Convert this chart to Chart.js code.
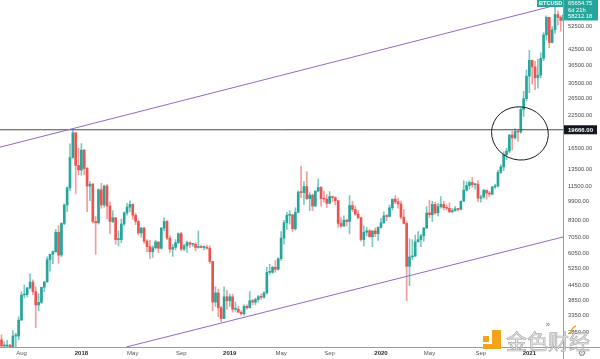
<!DOCTYPE html>
<html>
<head>
<meta charset="utf-8">
<script src="https://cdn.jsdelivr.net/npm/chart.js@4.4.1/dist/chart.umd.min.js"></script>
<style>
html,body{margin:0;padding:0;background:#ffffff;}
#wrap{width:600px;height:359px;position:relative;overflow:hidden;}
</style>
</head>
<body>
<div id="wrap"><canvas id="c" width="600" height="359"></canvas></div>
<script>
// ---- weekly candles (week start, Monday) ----
const weeks = [
'2017-06-19','2017-06-26','2017-07-03','2017-07-10','2017-07-17','2017-07-24','2017-07-31','2017-08-07','2017-08-14','2017-08-21','2017-08-28','2017-09-04','2017-09-11','2017-09-18','2017-09-25','2017-10-02','2017-10-09','2017-10-16','2017-10-23','2017-10-30','2017-11-06','2017-11-13','2017-11-20','2017-11-27','2017-12-04','2017-12-11','2017-12-18','2017-12-25',
'2018-01-01','2018-01-08','2018-01-15','2018-01-22','2018-01-29','2018-02-05','2018-02-12','2018-02-19','2018-02-26','2018-03-05','2018-03-12','2018-03-19','2018-03-26','2018-04-02','2018-04-09','2018-04-16','2018-04-23','2018-04-30','2018-05-07','2018-05-14','2018-05-21','2018-05-28','2018-06-04','2018-06-11','2018-06-18','2018-06-25','2018-07-02','2018-07-09','2018-07-16','2018-07-23','2018-07-30','2018-08-06','2018-08-13','2018-08-20','2018-08-27','2018-09-03','2018-09-10','2018-09-17','2018-09-24','2018-10-01','2018-10-08','2018-10-15','2018-10-22','2018-10-29','2018-11-05','2018-11-12','2018-11-19','2018-11-26','2018-12-03','2018-12-10','2018-12-17','2018-12-24','2018-12-31',
'2019-01-07','2019-01-14','2019-01-21','2019-01-28','2019-02-04','2019-02-11','2019-02-18','2019-02-25','2019-03-04','2019-03-11','2019-03-18','2019-03-25','2019-04-01','2019-04-08','2019-04-15','2019-04-22','2019-04-29','2019-05-06','2019-05-13','2019-05-20','2019-05-27','2019-06-03','2019-06-10','2019-06-17','2019-06-24','2019-07-01','2019-07-08','2019-07-15','2019-07-22','2019-07-29','2019-08-05','2019-08-12','2019-08-19','2019-08-26','2019-09-02','2019-09-09','2019-09-16','2019-09-23','2019-09-30','2019-10-07','2019-10-14','2019-10-21','2019-10-28','2019-11-04','2019-11-11','2019-11-18','2019-11-25','2019-12-02','2019-12-09','2019-12-16','2019-12-23','2019-12-30',
'2020-01-06','2020-01-13','2020-01-20','2020-01-27','2020-02-03','2020-02-10','2020-02-17','2020-02-24','2020-03-02','2020-03-09','2020-03-16','2020-03-23','2020-03-30','2020-04-06','2020-04-13','2020-04-20','2020-04-27','2020-05-04','2020-05-11','2020-05-18','2020-05-25','2020-06-01','2020-06-08','2020-06-15','2020-06-22','2020-06-29','2020-07-06','2020-07-13','2020-07-20','2020-07-27','2020-08-03','2020-08-10','2020-08-17','2020-08-24','2020-08-31','2020-09-07','2020-09-14','2020-09-21','2020-09-28','2020-10-05','2020-10-12','2020-10-19','2020-10-26','2020-11-02','2020-11-09','2020-11-16','2020-11-23','2020-11-30','2020-12-07','2020-12-14','2020-12-21','2020-12-28',
'2021-01-04','2021-01-11','2021-01-18','2021-01-25','2021-02-01','2021-02-08','2021-02-15','2021-02-22','2021-03-01','2021-03-08','2021-03-15','2021-03-22','2021-03-29'
];
const opens = [
2650,2500,2500,2520,1930,2750,2750,3200,4070,4080,4350,4600,4200,3700,3790,4380,4610,5700,6000,6150,7400,5950,8050,9600,11300,15100,19100,14000,
13400,16200,13600,11500,11700,8200,8100,11100,9600,11500,9500,8200,8500,6900,6900,8000,8900,9400,9650,8700,8200,7350,7700,6800,6450,6150,6380,6750,6350,7700,8200,7000,6300,6400,6700,7300,6300,6500,6700,6600,6600,6400,6450,6400,6400,6350,5600,3800,4150,3600,3250,4000,3850,
4000,3550,3550,3450,3400,3650,3600,3850,3800,3900,4000,3980,4150,5050,5050,5300,5200,5750,7000,8100,8700,8730,7650,8950,10850,10800,11450,10200,10550,9500,10950,11350,10200,10150,9750,10400,10300,10000,8050,7850,8300,8200,9550,9200,8800,8500,6900,7400,7500,7100,7500,7300,
7750,8100,8650,8600,9350,10150,9900,9700,8550,8050,5350,5850,5900,6750,6900,7150,7700,8900,8750,9650,8900,9450,9650,9350,9300,9000,9100,9250,9200,9950,11050,11550,11900,11650,11700,10250,10350,11050,10750,10650,11400,11500,13100,13800,15500,16050,18700,18200,19350,19250,23850,26450,
32800,38150,35800,32300,33100,38900,48600,57500,45200,51000,59000,57400,55800
];
const highs = [
2780,2600,2640,2540,2900,2830,3300,4200,4480,4380,4980,4700,4400,4120,4380,4620,5860,6000,6200,7600,7880,8100,9700,11400,17200,19666,19200,16500,
17250,16300,13700,12000,11800,8600,11200,11800,11600,11700,9900,9100,8500,7500,8400,9000,9750,9990,9700,8880,8300,7750,7760,6900,6850,6500,6850,6750,7750,8500,8280,7150,6600,6900,7350,7400,6600,6800,6750,6650,6700,7500,6550,6500,6550,6500,5600,4400,4300,3650,4400,4250,4100,
4100,3800,3650,3500,3700,3700,4200,3900,3950,4050,4100,4200,5300,5450,5350,5650,5800,7450,8300,8950,9100,8800,9350,11000,13880,12000,13200,10800,10650,11000,12300,11450,10950,10600,10900,10450,10350,10000,8500,8650,8400,10500,9950,9500,9100,8550,7850,7750,7600,7500,7700,7800,
8450,9000,8750,9600,10150,10500,10250,9950,9200,8200,6950,6900,7200,7450,7250,7750,9450,10050,9950,9850,9750,10400,9950,9600,9800,9300,9450,9300,9950,12100,12000,12100,12480,11800,12100,10550,11150,11050,10950,11450,11700,13350,14100,15950,16500,18800,19450,19900,19450,24250,28400,34800,
41950,38250,37800,38500,41000,49700,58350,57500,52600,64000,61000,58400,59800
];
const lows = [
2450,2320,2480,1840,1910,2450,2650,3200,3960,3990,4300,4080,2980,3500,3750,4200,4600,5100,5480,6100,5500,5850,7950,9000,11000,15000,10700,12800,
12750,12800,9000,10000,8100,6000,8000,9300,9400,8400,7300,8100,6600,6500,6700,7900,8700,9000,8350,7950,7200,7050,6650,6130,5750,5820,6300,6100,6300,7500,6900,6100,5880,6250,6650,6200,6200,6100,6400,6450,6200,6350,6380,6250,6300,5500,3500,3650,3300,3150,3250,3550,3650,
3450,3480,3450,3350,3350,3550,3600,3700,3700,3800,3900,3950,4100,4950,5000,5050,5150,5650,6600,7600,8000,7450,7550,8950,10300,9650,10100,9100,9100,9450,10950,9500,9850,9350,9700,9900,9600,7750,7750,7800,7850,7300,9000,8700,8400,6800,6500,7150,7050,6450,7100,6850,
7700,8050,8250,8550,9150,9700,9300,8400,8000,3850,4450,5700,5850,6750,6450,6800,7650,8500,8200,8800,8650,9300,9150,9150,8900,8900,9050,9050,9150,9950,10950,11150,11350,11150,9900,9850,10250,10150,10400,10550,11250,11400,12950,13300,14800,15800,16200,18000,17600,19000,22350,25900,
28000,30400,28800,29250,32300,37950,46200,43000,45000,49300,53300,50400,54800
];
const closes = [
2500,2500,2520,1930,2750,2750,3200,4070,4080,4350,4600,4200,3700,3790,4380,4610,5700,6000,6150,7400,5950,8050,9600,11300,15100,19100,14000,13400,
16200,13600,11500,11700,8200,8100,11100,9600,11500,9500,8200,8500,6900,6900,8000,8900,9400,9650,8700,8200,7350,7700,6800,6450,6150,6380,6750,6350,7700,8200,7000,6300,6400,6700,7300,6300,6500,6700,6600,6600,6400,6450,6400,6400,6350,5600,3800,4150,3600,3250,4000,3850,4000,
3550,3550,3450,3400,3650,3600,3850,3800,3900,4000,3980,4150,5050,5050,5300,5200,5750,7000,8100,8700,8730,7650,8950,10850,10800,11450,10200,10550,9500,10950,11350,10200,10150,9750,10400,10300,10000,8050,7850,8300,8200,9550,9200,8800,8500,6900,7400,7500,7100,7500,7300,7750,
8100,8650,8600,9350,10150,9900,9700,8550,8050,5350,5850,5900,6750,6900,7150,7700,8900,8750,9650,8900,9450,9650,9350,9300,9000,9100,9250,9200,9950,11050,11550,11900,11650,11700,10250,10350,11050,10750,10650,11400,11500,13100,13800,15500,16050,18700,18200,19350,19250,23850,26450,32800,
38150,35800,32300,33100,38900,48600,57500,45200,51000,59000,57400,55800,58750
];

// ---- axes ----
const yTicks = [52500,42500,36500,30500,26500,22500,16500,13500,11500,9900,8300,7050,6050,5250,4450,3850,3350,2850];
const xTickDates = ['2017-08-07','2018-01-01','2018-05-07','2018-09-03','2018-12-31','2019-05-06','2019-09-02','2020-01-06','2020-05-04','2020-09-07','2021-01-04'];
const xTickLabels = ['Aug','2018','May','Sep','2019','May','Sep','2020','May','Sep','2021'];
const xRange = ['2017-06-15T07:00','2021-03-27T14:00'];
const yRange = [2477, 67800];

// ---- drawings ----
const keyLevel = 19666;
const upperLine = [['2017-06-15', 16650], ['2021-03-28', 65654.75]];
const lowerLine = [['2018-04-21', 2477], ['2021-03-28', 7075]];
const ringCenter = ['2020-12-12', 18990];
const symbol = 'BTCUSD', lineLabel = 65654.75, countdown = '6d 21h', lastPrice = 58212.18;

const T0 = Date.parse('2018-01-01T00:00:00Z');
const day = s => (Date.parse((s.length > 10 ? s : s + 'T00:00') + ':00Z') - T0) / 86400000;

const UP = '#26a69a', DOWN = '#ef5350', UPW = '#79c9c1', DOWNW = '#f39c9a';
const isUp = i => closes[i] >= opens[i];

const wickData = weeks.map((w, i) => ({x: day(w), y: [lows[i], highs[i]]}));
const bodyData = weeks.map((w, i) => ({x: day(w), y: [opens[i], closes[i]]}));
const pts = arr => arr.map(p => ({x: day(p[0]), y: p[1]}));

const FONT = '"Liberation Sans", Arial, sans-serif';

const extras = {
  id: 'extras',
  afterDraw(chart) {
    const {ctx, chartArea: a, scales: {x, y}} = chart;
    ctx.save();
    // circled area
    const cx = x.getPixelForValue(day(ringCenter[0]));
    const cy = y.getPixelForValue(ringCenter[1]);
    ctx.beginPath();
    ctx.ellipse(cx, cy, 28.5, 26.5, 0.25, 0, Math.PI * 2);
    ctx.strokeStyle = '#1c1c1c';
    ctx.lineWidth = 1;
    ctx.stroke();

    // axis borders
    ctx.strokeStyle = '#9b9b9b';
    ctx.lineWidth = 1;
    ctx.beginPath();
    ctx.moveTo(a.right + 0.5, 0); ctx.lineTo(a.right + 0.5, chart.height);
    ctx.moveTo(0, a.bottom + 0.5); ctx.lineTo(chart.width, a.bottom + 0.5);
    ctx.stroke();

    ctx.textBaseline = 'middle';
    ctx.textAlign = 'left';
    // key level label
    const ky = y.getPixelForValue(keyLevel);
    ctx.fillStyle = '#131722';
    ctx.fillRect(a.right + 1, ky - 4.5, 33, 9);
    ctx.fillStyle = '#ffffff';
    ctx.font = 'bold 6px ' + FONT;
    ctx.fillText(keyLevel.toFixed(2), a.right + 5, ky + 0.3);

    // last price / symbol labels
    const y1 = y.getPixelForValue(lineLabel), y2 = y.getPixelForValue(lastPrice);
    ctx.fillStyle = UP;
    ctx.fillRect(a.right + 1, y1 - 5, 34, (y2 + 4.5) - (y1 - 5));
    ctx.fillRect(a.right - 26, 0, 26, 7);
    ctx.fillStyle = '#ffffff';
    ctx.font = 'bold 5.6px ' + FONT;
    ctx.fillText(symbol, a.right - 24, 3.6);
    ctx.font = '5.8px ' + FONT;
    ctx.fillText(lineLabel.toFixed(2), a.right + 5, y1 + 0.3);
    ctx.fillText(countdown, a.right + 5, (y1 + y2) / 2 + 0.3);
    ctx.fillText(lastPrice.toFixed(2), a.right + 5, y2 + 0.3);

    // scroll icon and settings icon
    ctx.fillStyle = '#777';
    ctx.font = '8px "DejaVu Sans"';
    ctx.textAlign = 'center';
    ctx.fillText('»', a.right - 15, a.bottom - 22);
    ctx.font = '9px "DejaVu Sans"';
    ctx.fillText('⚙', a.right + 19, a.bottom + 6.5);

    // watermark
    ctx.fillStyle = '#f2a51a';
    ctx.fillRect(483, 336, 6, 6);
    ctx.fillRect(492, 330, 9, 19);
    ctx.fillRect(483, 344, 18, 5);
    ctx.font = '21px "Noto Sans CJK SC"';
    ctx.textAlign = 'left';
    ctx.textBaseline = 'alphabetic';
    ctx.fillStyle = 'rgba(228,228,228,0.85)';
    ctx.fillText('金色财经', 506, 349);
    ctx.strokeStyle = 'rgba(150,150,150,0.75)';
    ctx.lineWidth = 0.7;
    ctx.strokeText('金色财经', 506, 349);
    ctx.strokeStyle = '#f2a51a';
    ctx.lineWidth = 1.6;
    ctx.beginPath();
    ctx.moveTo(570, 334); ctx.quadraticCurveTo(572, 327, 576, 326);
    ctx.stroke();
    ctx.restore();
  }
};

new Chart(document.getElementById('c'), {
  type: 'bar',
  data: {
    datasets: [
      {type: 'line', data: pts(upperLine), borderColor: '#9466c9', borderWidth: 1, pointRadius: 0, order: 0},
      {type: 'line', data: pts(lowerLine), borderColor: '#9466c9', borderWidth: 1, pointRadius: 0, order: 0},
      {type: 'line', data: [{x: day(xRange[0]), y: keyLevel}, {x: day(xRange[1]), y: keyLevel}], borderColor: '#4a4a4a', borderWidth: 1, pointRadius: 0, order: 0},
      {type: 'bar', data: bodyData, grouped: false, barThickness: 2, minBarLength: 1, borderWidth: 0,
        backgroundColor: c => isUp(c.dataIndex) ? UP : DOWN, order: 1},
      {type: 'bar', data: wickData, grouped: false, barThickness: 1, borderWidth: 0,
        backgroundColor: c => isUp(c.dataIndex) ? UPW : DOWNW, order: 2}
    ]
  },
  options: {
    responsive: false,
    animation: false,
    events: [],
    layout: {padding: 0},
    plugins: {legend: {display: false}, tooltip: {enabled: false}, title: {display: false}},
    scales: {
      x: {
        type: 'linear', offset: false, bounds: 'data',
        min: day(xRange[0]), max: day(xRange[1]),
        grid: {display: false, drawTicks: false}, border: {display: false},
        afterBuildTicks: s => { s.ticks = xTickDates.map(d => ({value: day(d)})); },
        afterFit: s => { s.height = 12; s.paddingLeft = 0; s.paddingRight = 0; s.paddingTop = 0; s.paddingBottom = 0; },
        ticks: {
          autoSkip: false, maxRotation: 0, minRotation: 0, padding: 3,
          callback: (v, i) => xTickLabels[i],
          color: c => /^\d/.test(xTickLabels[c.index] || '') ? '#2a2a2a' : '#555555',
          font: c => ({family: FONT, size: 6, weight: /^\d/.test(xTickLabels[c.index] || '') ? 'bold' : 'normal'})
        }
      },
      y: {
        type: 'logarithmic', position: 'right', bounds: 'data',
        min: yRange[0], max: yRange[1],
        grid: {display: false, drawTicks: false}, border: {display: false},
        afterBuildTicks: s => { s.ticks = yTicks.map(v => ({value: v})); },
        afterFit: s => { s.width = 37; s.paddingLeft = 0; s.paddingRight = 0; s.paddingTop = 0; s.paddingBottom = 0; },
        ticks: {
          autoSkip: false, padding: 5, color: '#4a4a4a',
          font: {family: FONT, size: 5.8},
          callback: v => Number(v).toFixed(2)
        }
      }
    }
  },
  plugins: [extras]
});
</script>
</body>
</html>
